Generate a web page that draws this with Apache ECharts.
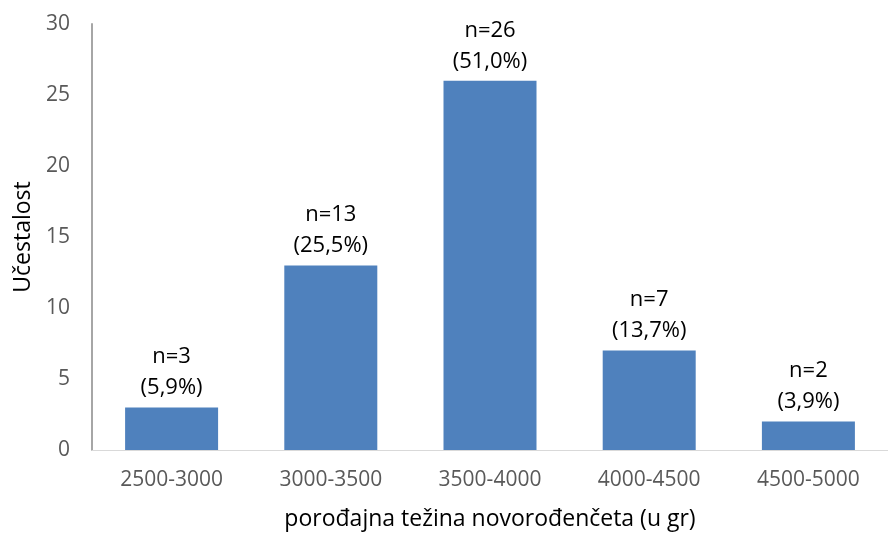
<!DOCTYPE html>
<html>
<head>
<meta charset="utf-8">
<script src="https://cdn.jsdelivr.net/npm/echarts@6/dist/echarts.min.js"></script>
<style>
  html, body { margin: 0; padding: 0; background: #fff; }
</style>
</head>
<body>
<div id="chart" style="width: 888px; height: 534px;"></div>
<script>
const categories = ['2500-3000', '3000-3500', '3500-4000', '4000-4500', '4500-5000'];
const counts = [3, 13, 26, 7, 2];
const yTicks = [0, 5, 10, 15, 20, 25, 30];

const total = counts.reduce((a, b) => a + b, 0);
const font = '"Open Sans", "Noto Sans", sans-serif';

const chart = echarts.init(document.getElementById('chart'));
chart.setOption({
    animation: false,
    grid: {
        left: 92,
        right: 0,
        top: 24,
        bottom: 84,
        outerBoundsMode: 'none',
        containLabel: false
    },
    xAxis: {
        type: 'category',
        data: categories,
        name: 'porođajna težina novorođenčeta (u gr)',
        nameLocation: 'middle',
        nameGap: 58,
        nameTextStyle: { fontFamily: font, fontSize: 23, color: '#000' },
        axisLine: { lineStyle: { color: '#d9d9d9', width: 1 } },
        axisTick: { show: false },
        axisLabel: { fontFamily: font, fontSize: 21, color: '#595959', margin: 20 }
    },
    yAxis: {
        type: 'value',
        min: yTicks[0],
        max: yTicks[yTicks.length - 1],
        interval: 5,
        name: 'Učestalost',
        nameLocation: 'middle',
        nameGap: 56,
        nameTextStyle: { fontFamily: font, fontSize: 23, color: '#000' },
        axisLine: { show: true, lineStyle: { color: '#a6a6a6', width: 2 } },
        axisTick: { show: false },
        splitLine: { show: false },
        axisLabel: { fontFamily: font, fontSize: 21, color: '#595959', margin: 22 }
    },
    series: [
        {
            type: 'bar',
            data: counts,
            barWidth: 93,
            itemStyle: { color: '#4f81bd' },
            label: {
                show: true,
                position: 'top',
                distance: 4,
                fontFamily: font,
                fontSize: 22,
                lineHeight: 31,
                color: '#000',
                formatter(p) {
                    let pct = (p.value / total * 100).toFixed(1).replace('.', ',');
                    return 'n=' + p.value + '\n(' + pct + '%)';
                }
            }
        }
    ]
});
</script>
</body>
</html>
